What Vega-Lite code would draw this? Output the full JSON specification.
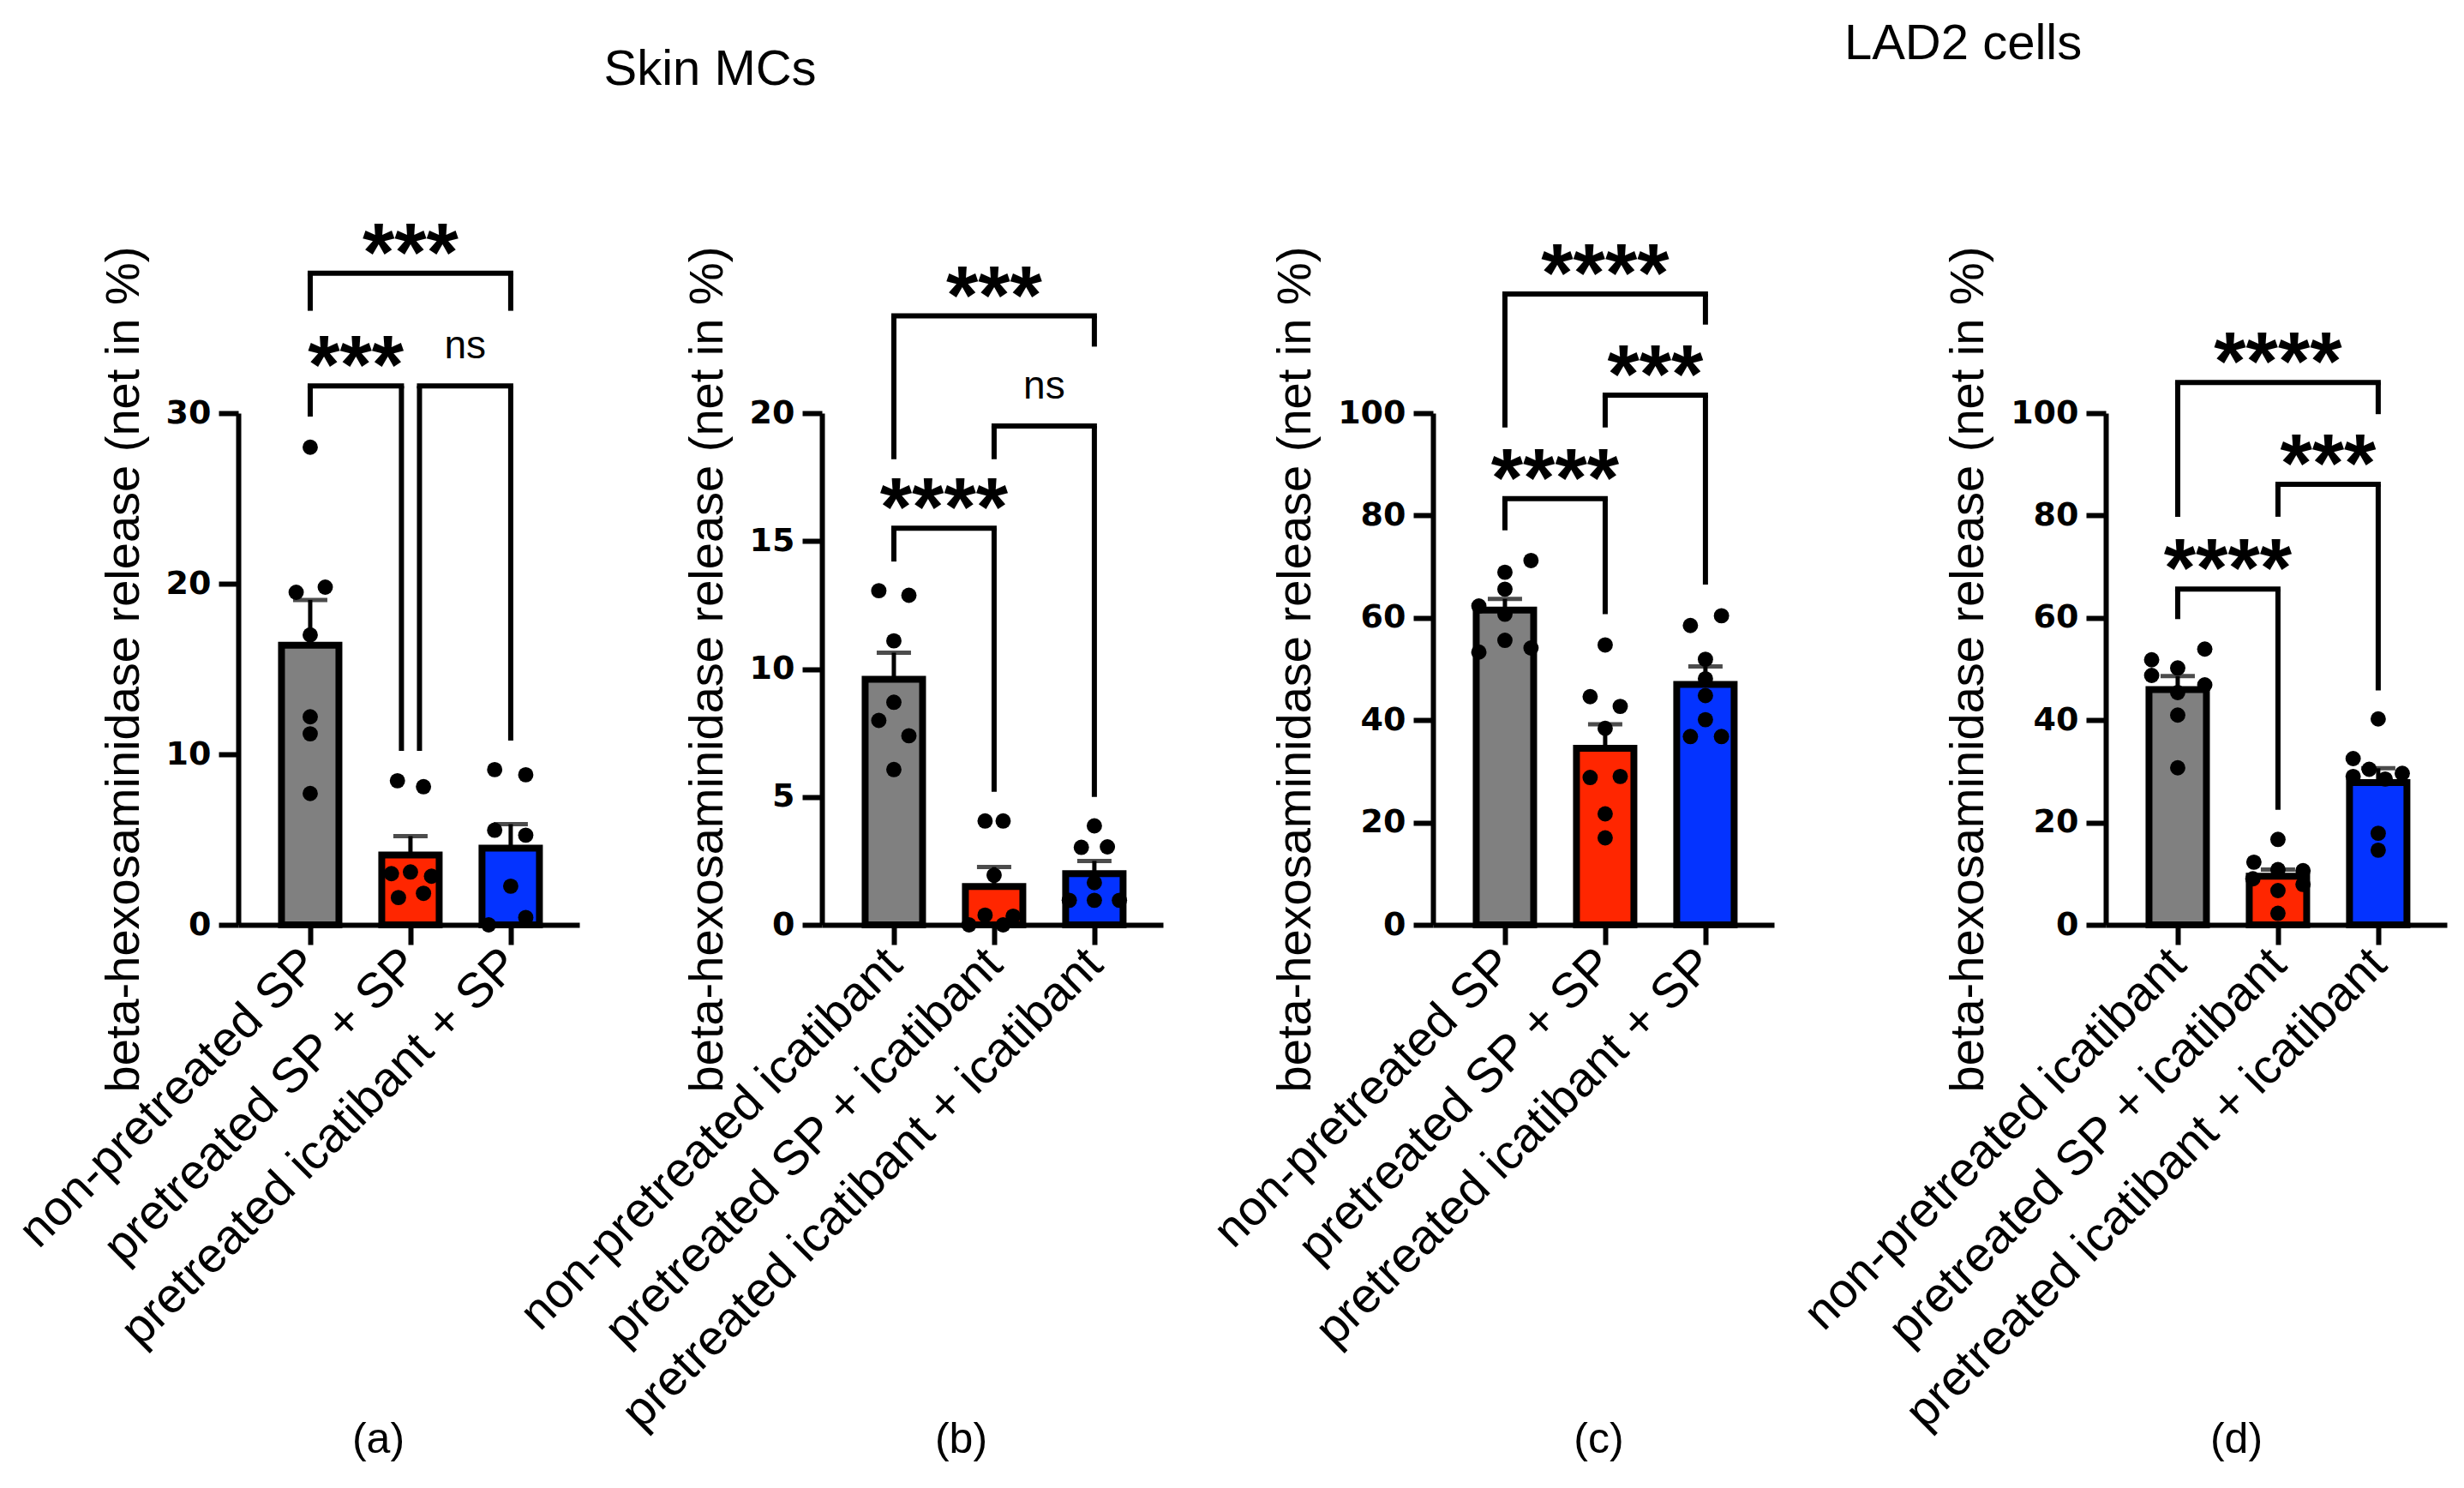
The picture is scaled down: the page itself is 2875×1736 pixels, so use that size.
{
  "$schema": "https://vega.github.io/schema/vega-lite/v6.json",
  "padding": {"left": 12, "top": 22, "right": 5, "bottom": 5},
  "background": "white",
  "config": {
    "font": "Liberation Sans",
    "view": {"stroke": null},
    "axis": {"grid": false, "domainColor": "black", "tickColor": "black", "labelColor": "black", "titleColor": "black", "domainWidth": 6, "tickWidth": 6, "tickSize": 23},
    "axisY": {"labelFont": "DejaVu Sans", "labelFontSize": 38, "labelFontWeight": "bold", "labelPadding": 9, "titleFont": "Liberation Sans", "titleFontSize": 56, "titleFontWeight": "normal", "titlePadding": 20},
    "axisX": {"labelFont": "Liberation Sans", "labelFontSize": 57, "labelFontWeight": "normal", "labelAngle": -45, "labelAlign": "right", "labelBaseline": "middle", "labelPadding": 14, "labelLimit": 0, "labelOverlap": false, "labelBound": false, "labelFlush": false, "titleFont": "Liberation Sans", "titleFontSize": 50, "titleFontWeight": "normal", "titleY": 600, "titleBaseline": "middle", "titleAlign": "center", "titleAngle": 0},
    "title": {"font": "Liberation Sans", "fontSize": 58, "fontWeight": "normal", "color": "black", "anchor": "middle", "baseline": "alphabetic"}
  },
  "datasets": {
    "bars": [
      {"panel": "a", "x": 1, "group": "non-pretreated SP", "mean": 16.4, "upper": 19.05},
      {"panel": "a", "x": 2, "group": "pretreated SP + SP", "mean": 4.1, "upper": 5.2},
      {"panel": "a", "x": 3, "group": "pretreated icatibant + SP", "mean": 4.5, "upper": 5.9},
      {"panel": "b", "x": 1, "group": "non-pretreated icatibant", "mean": 9.6, "upper": 10.64},
      {"panel": "b", "x": 2, "group": "pretreated SP + icatibant", "mean": 1.5, "upper": 2.26},
      {"panel": "b", "x": 3, "group": "pretreated icatibant + icatibant", "mean": 2.0, "upper": 2.5},
      {"panel": "c", "x": 1, "group": "non-pretreated SP", "mean": 61.5, "upper": 63.7},
      {"panel": "c", "x": 2, "group": "pretreated SP + SP", "mean": 34.5, "upper": 39.2},
      {"panel": "c", "x": 3, "group": "pretreated icatibant + SP", "mean": 47.0, "upper": 50.5},
      {"panel": "d", "x": 1, "group": "non-pretreated icatibant", "mean": 46.0, "upper": 48.6},
      {"panel": "d", "x": 2, "group": "pretreated SP + icatibant", "mean": 9.5, "upper": 10.8},
      {"panel": "d", "x": 3, "group": "pretreated icatibant + icatibant", "mean": 27.8, "upper": 30.6}
    ],
    "dots": [
      {"panel": "a", "x": 1.0, "value": 28.0}, {"panel": "a", "x": 0.86, "value": 19.5}, {"panel": "a", "x": 1.15, "value": 19.8}, {"panel": "a", "x": 1.0, "value": 17.0}, {"panel": "a", "x": 1.0, "value": 12.2}, {"panel": "a", "x": 1.0, "value": 11.2}, {"panel": "a", "x": 1.0, "value": 7.7},
      {"panel": "a", "x": 1.87, "value": 8.45}, {"panel": "a", "x": 2.13, "value": 8.1}, {"panel": "a", "x": 1.81, "value": 3.0}, {"panel": "a", "x": 2.0, "value": 3.1}, {"panel": "a", "x": 2.21, "value": 2.85}, {"panel": "a", "x": 1.88, "value": 1.6}, {"panel": "a", "x": 2.13, "value": 1.85},
      {"panel": "a", "x": 2.84, "value": 9.1}, {"panel": "a", "x": 3.15, "value": 8.8}, {"panel": "a", "x": 2.84, "value": 5.55}, {"panel": "a", "x": 3.15, "value": 5.26}, {"panel": "a", "x": 3.0, "value": 2.27}, {"panel": "a", "x": 3.15, "value": 0.43}, {"panel": "a", "x": 2.78, "value": 0.0},
      {"panel": "b", "x": 0.85, "value": 13.06}, {"panel": "b", "x": 1.15, "value": 12.88}, {"panel": "b", "x": 1.0, "value": 11.1}, {"panel": "b", "x": 1.0, "value": 8.7}, {"panel": "b", "x": 0.85, "value": 7.99}, {"panel": "b", "x": 1.15, "value": 7.39}, {"panel": "b", "x": 1.0, "value": 6.07},
      {"panel": "b", "x": 1.91, "value": 4.06}, {"panel": "b", "x": 2.09, "value": 4.06}, {"panel": "b", "x": 2.0, "value": 1.94}, {"panel": "b", "x": 1.91, "value": 0.38}, {"panel": "b", "x": 1.75, "value": 0.0}, {"panel": "b", "x": 2.09, "value": 0.0}, {"panel": "b", "x": 2.19, "value": 0.34},
      {"panel": "b", "x": 3.0, "value": 3.87}, {"panel": "b", "x": 2.87, "value": 3.03}, {"panel": "b", "x": 3.13, "value": 3.05}, {"panel": "b", "x": 3.0, "value": 1.65}, {"panel": "b", "x": 3.0, "value": 0.96}, {"panel": "b", "x": 2.75, "value": 0.96}, {"panel": "b", "x": 3.25, "value": 0.96},
      {"panel": "c", "x": 1.26, "value": 71.2}, {"panel": "c", "x": 1.0, "value": 68.9}, {"panel": "c", "x": 1.0, "value": 65.6}, {"panel": "c", "x": 0.74, "value": 62.3}, {"panel": "c", "x": 1.0, "value": 60.7}, {"panel": "c", "x": 1.0, "value": 55.6}, {"panel": "c", "x": 0.74, "value": 53.3}, {"panel": "c", "x": 1.26, "value": 54.1},
      {"panel": "c", "x": 2.0, "value": 54.7}, {"panel": "c", "x": 1.85, "value": 44.6}, {"panel": "c", "x": 2.15, "value": 42.7}, {"panel": "c", "x": 2.0, "value": 38.4}, {"panel": "c", "x": 1.85, "value": 28.8}, {"panel": "c", "x": 2.15, "value": 29.0}, {"panel": "c", "x": 2.0, "value": 21.7}, {"panel": "c", "x": 2.0, "value": 17.0},
      {"panel": "c", "x": 3.16, "value": 60.4}, {"panel": "c", "x": 2.85, "value": 58.5}, {"panel": "c", "x": 3.0, "value": 51.9}, {"panel": "c", "x": 3.0, "value": 48.1}, {"panel": "c", "x": 3.0, "value": 44.8}, {"panel": "c", "x": 3.0, "value": 40.1}, {"panel": "c", "x": 2.85, "value": 36.8}, {"panel": "c", "x": 3.16, "value": 36.8},
      {"panel": "d", "x": 1.27, "value": 53.9}, {"panel": "d", "x": 0.74, "value": 51.8}, {"panel": "d", "x": 1.0, "value": 50.2}, {"panel": "d", "x": 0.74, "value": 48.75}, {"panel": "d", "x": 1.27, "value": 46.9}, {"panel": "d", "x": 1.0, "value": 45.4}, {"panel": "d", "x": 1.0, "value": 41.0}, {"panel": "d", "x": 1.0, "value": 30.7},
      {"panel": "d", "x": 2.0, "value": 16.7}, {"panel": "d", "x": 1.76, "value": 12.25}, {"panel": "d", "x": 2.0, "value": 10.8}, {"panel": "d", "x": 2.25, "value": 10.6}, {"panel": "d", "x": 1.75, "value": 9.0}, {"panel": "d", "x": 2.25, "value": 7.9}, {"panel": "d", "x": 2.0, "value": 6.7}, {"panel": "d", "x": 2.0, "value": 2.25},
      {"panel": "d", "x": 3.0, "value": 40.25}, {"panel": "d", "x": 2.75, "value": 32.5}, {"panel": "d", "x": 2.91, "value": 30.4}, {"panel": "d", "x": 3.24, "value": 29.6}, {"panel": "d", "x": 2.75, "value": 29.0}, {"panel": "d", "x": 3.07, "value": 28.5}, {"panel": "d", "x": 3.0, "value": 17.9}, {"panel": "d", "x": 3.0, "value": 14.6}
    ],
    "brackets": [
      {"panel": "a", "x1": 1, "x2": 3, "xm": 2, "h": 38.2, "y1": 36.0, "y2": 36.0, "label": "***"},
      {"panel": "a", "x1": 1, "x2": 1.91, "xm": 1.455, "h": 31.6, "y1": 29.8, "y2": 10.2, "label": "***"},
      {"panel": "a", "x1": 2.09, "x2": 3, "xm": 2.545, "h": 31.6, "y1": 10.2, "y2": 10.8, "label": "ns"},
      {"panel": "b", "x1": 1, "x2": 3, "xm": 2, "h": 23.8, "y1": 18.2, "y2": 22.6, "label": "***"},
      {"panel": "b", "x1": 1, "x2": 2, "xm": 1.5, "h": 15.5, "y1": 14.2, "y2": 5.2, "label": "****"},
      {"panel": "b", "x1": 2, "x2": 3, "xm": 2.5, "h": 19.5, "y1": 18.2, "y2": 5.0, "label": "ns"},
      {"panel": "c", "x1": 1, "x2": 3, "xm": 2, "h": 123.3, "y1": 97.2, "y2": 117.3, "label": "****"},
      {"panel": "c", "x1": 1, "x2": 2, "xm": 1.5, "h": 83.3, "y1": 77.1, "y2": 60.7, "label": "****"},
      {"panel": "c", "x1": 2, "x2": 3, "xm": 2.5, "h": 103.5, "y1": 97.2, "y2": 66.5, "label": "***"},
      {"panel": "d", "x1": 1, "x2": 3, "xm": 2, "h": 106.0, "y1": 79.75, "y2": 99.8, "label": "****"},
      {"panel": "d", "x1": 1, "x2": 2, "xm": 1.5, "h": 65.6, "y1": 59.75, "y2": 22.5, "label": "****"},
      {"panel": "d", "x1": 2, "x2": 3, "xm": 2.5, "h": 86.1, "y1": 79.75, "y2": 45.8, "label": "***"}
    ]
  },
  "resolve": {"scale": {"x": "independent", "y": "independent"}},
  "spacing": 49,
  "hconcat": [
    {
      "title": {"text": "Skin MCs", "dx": 144, "offset": 139},
      "bounds": "flush",
      "spacing": 283,
      "resolve": {"scale": {"x": "independent", "y": "independent"}},
      "hconcat": [
        {
          "width": 398, "height": 597,
          "layer": [
            {"data": {"name": "bars"}, "transform": [{"filter": "datum.panel === 'a'"}],
             "mark": {"type": "bar", "orient": "vertical", "size": 67, "stroke": "black", "strokeWidth": 8},
             "encoding": {
               "x": {"field": "x", "type": "quantitative", "scale": {"domain": [0.325, 3.642], "nice": false, "zero": false},
                     "axis": {"values": [1, 2, 3], "labelExpr": "datum.value == 1 ? 'non-pretreated SP' : datum.value == 2 ? 'pretreated SP + SP' : 'pretreated icatibant + SP'", "title": "(a)", "titleX": 163}},
               "y": {"field": "mean", "type": "quantitative", "scale": {"domain": [0, 30], "nice": false, "zero": true},
                     "axis": {"values": [0, 10, 20, 30], "title": "beta-hexosaminidase release (net in %)"}},
               "color": {"field": "group", "type": "nominal", "legend": null,
                         "scale": {"domain": ["non-pretreated SP", "pretreated SP + SP", "pretreated icatibant + SP", "non-pretreated icatibant", "pretreated SP + icatibant", "pretreated icatibant + icatibant"], "range": ["#808080", "#FF2600", "#0433FF", "#808080", "#FF2600", "#0433FF"]}}
             }},
            {"data": {"name": "bars"}, "transform": [{"filter": "datum.panel === 'a'"}],
             "mark": {"type": "rule", "color": "black", "strokeWidth": 5},
             "encoding": {"x": {"field": "x", "type": "quantitative"}, "y": {"field": "mean", "type": "quantitative"}, "y2": {"field": "upper"}}},
            {"data": {"name": "bars"}, "transform": [{"filter": "datum.panel === 'a'"}],
             "mark": {"type": "tick", "orient": "horizontal", "color": "black", "size": 40, "thickness": 5},
             "encoding": {"x": {"field": "x", "type": "quantitative"}, "y": {"field": "upper", "type": "quantitative"}}},
            {"data": {"name": "dots"}, "transform": [{"filter": "datum.panel === 'a'"}],
             "mark": {"type": "point", "filled": true, "color": "black", "opacity": 1, "size": 320},
             "encoding": {"x": {"field": "x", "type": "quantitative"}, "y": {"field": "value", "type": "quantitative"}}},
            {"data": {"name": "brackets"}, "transform": [{"filter": "datum.panel === 'a'"}],
             "mark": {"type": "rule", "color": "black", "strokeWidth": 6, "strokeCap": "square"},
             "encoding": {"x": {"field": "x1", "type": "quantitative"}, "x2": {"field": "x2"}, "y": {"field": "h", "type": "quantitative"}}},
            {"data": {"name": "brackets"}, "transform": [{"filter": "datum.panel === 'a'"}],
             "mark": {"type": "rule", "color": "black", "strokeWidth": 6},
             "encoding": {"x": {"field": "x1", "type": "quantitative"}, "y": {"field": "h", "type": "quantitative"}, "y2": {"field": "y1"}}},
            {"data": {"name": "brackets"}, "transform": [{"filter": "datum.panel === 'a'"}],
             "mark": {"type": "rule", "color": "black", "strokeWidth": 6},
             "encoding": {"x": {"field": "x2", "type": "quantitative"}, "y": {"field": "h", "type": "quantitative"}, "y2": {"field": "y2"}}},
            {"data": {"name": "brackets"}, "transform": [{"filter": "datum.panel === 'a' && datum.label !== 'ns'"}],
             "mark": {"type": "text", "font": "Liberation Sans", "fontWeight": "bold", "fontSize": 96, "baseline": "alphabetic", "align": "center", "dy": 8, "color": "black"},
             "encoding": {"x": {"field": "xm", "type": "quantitative"}, "y": {"field": "h", "type": "quantitative"}, "text": {"field": "label"}}},
            {"data": {"name": "brackets"}, "transform": [{"filter": "datum.panel === 'a' && datum.label === 'ns'"}],
             "mark": {"type": "text", "font": "Liberation Sans", "fontWeight": "normal", "fontSize": 46, "baseline": "alphabetic", "align": "center", "dy": -32, "color": "black"},
             "encoding": {"x": {"field": "xm", "type": "quantitative"}, "y": {"field": "h", "type": "quantitative"}, "text": {"field": "label"}}}
          ]
        },
        {
          "width": 398, "height": 597,
          "layer": [
            {"data": {"name": "bars"}, "transform": [{"filter": "datum.panel === 'b'"}],
             "mark": {"type": "bar", "orient": "vertical", "size": 67, "stroke": "black", "strokeWidth": 8},
             "encoding": {
               "x": {"field": "x", "type": "quantitative", "scale": {"domain": [0.325, 3.642], "nice": false, "zero": false},
                     "axis": {"values": [1, 2, 3], "labelExpr": "datum.value == 1 ? 'non-pretreated icatibant' : datum.value == 2 ? 'pretreated SP + icatibant' : 'pretreated icatibant + icatibant'", "title": "(b)", "titleX": 162}},
               "y": {"field": "mean", "type": "quantitative", "scale": {"domain": [0, 20], "nice": false, "zero": true},
                     "axis": {"values": [0, 5, 10, 15, 20], "title": "beta-hexosaminidase release (net in %)"}},
               "color": {"field": "group", "type": "nominal", "legend": null,
                         "scale": {"domain": ["non-pretreated SP", "pretreated SP + SP", "pretreated icatibant + SP", "non-pretreated icatibant", "pretreated SP + icatibant", "pretreated icatibant + icatibant"], "range": ["#808080", "#FF2600", "#0433FF", "#808080", "#FF2600", "#0433FF"]}}
             }},
            {"data": {"name": "bars"}, "transform": [{"filter": "datum.panel === 'b'"}],
             "mark": {"type": "rule", "color": "black", "strokeWidth": 5},
             "encoding": {"x": {"field": "x", "type": "quantitative"}, "y": {"field": "mean", "type": "quantitative"}, "y2": {"field": "upper"}}},
            {"data": {"name": "bars"}, "transform": [{"filter": "datum.panel === 'b'"}],
             "mark": {"type": "tick", "orient": "horizontal", "color": "black", "size": 40, "thickness": 5},
             "encoding": {"x": {"field": "x", "type": "quantitative"}, "y": {"field": "upper", "type": "quantitative"}}},
            {"data": {"name": "dots"}, "transform": [{"filter": "datum.panel === 'b'"}],
             "mark": {"type": "point", "filled": true, "color": "black", "opacity": 1, "size": 320},
             "encoding": {"x": {"field": "x", "type": "quantitative"}, "y": {"field": "value", "type": "quantitative"}}},
            {"data": {"name": "brackets"}, "transform": [{"filter": "datum.panel === 'b'"}],
             "mark": {"type": "rule", "color": "black", "strokeWidth": 6, "strokeCap": "square"},
             "encoding": {"x": {"field": "x1", "type": "quantitative"}, "x2": {"field": "x2"}, "y": {"field": "h", "type": "quantitative"}}},
            {"data": {"name": "brackets"}, "transform": [{"filter": "datum.panel === 'b'"}],
             "mark": {"type": "rule", "color": "black", "strokeWidth": 6},
             "encoding": {"x": {"field": "x1", "type": "quantitative"}, "y": {"field": "h", "type": "quantitative"}, "y2": {"field": "y1"}}},
            {"data": {"name": "brackets"}, "transform": [{"filter": "datum.panel === 'b'"}],
             "mark": {"type": "rule", "color": "black", "strokeWidth": 6},
             "encoding": {"x": {"field": "x2", "type": "quantitative"}, "y": {"field": "h", "type": "quantitative"}, "y2": {"field": "y2"}}},
            {"data": {"name": "brackets"}, "transform": [{"filter": "datum.panel === 'b' && datum.label !== 'ns'"}],
             "mark": {"type": "text", "font": "Liberation Sans", "fontWeight": "bold", "fontSize": 96, "baseline": "alphabetic", "align": "center", "dy": 8, "color": "black"},
             "encoding": {"x": {"field": "xm", "type": "quantitative"}, "y": {"field": "h", "type": "quantitative"}, "text": {"field": "label"}}},
            {"data": {"name": "brackets"}, "transform": [{"filter": "datum.panel === 'b' && datum.label === 'ns'"}],
             "mark": {"type": "text", "font": "Liberation Sans", "fontWeight": "normal", "fontSize": 46, "baseline": "alphabetic", "align": "center", "dy": -32, "color": "black"},
             "encoding": {"x": {"field": "xm", "type": "quantitative"}, "y": {"field": "h", "type": "quantitative"}, "text": {"field": "label"}}}
          ]
        }
      ]
    },
    {
      "title": {"text": "LAD2 cells", "dx": 160, "offset": 193},
      "bounds": "flush",
      "spacing": 387,
      "resolve": {"scale": {"x": "independent", "y": "independent"}},
      "hconcat": [
        {
          "width": 398, "height": 597,
          "layer": [
            {"data": {"name": "bars"}, "transform": [{"filter": "datum.panel === 'c'"}],
             "mark": {"type": "bar", "orient": "vertical", "size": 67, "stroke": "black", "strokeWidth": 8},
             "encoding": {
               "x": {"field": "x", "type": "quantitative", "scale": {"domain": [0.325, 3.642], "nice": false, "zero": false},
                     "axis": {"values": [1, 2, 3], "labelExpr": "datum.value == 1 ? 'non-pretreated SP' : datum.value == 2 ? 'pretreated SP + SP' : 'pretreated icatibant + SP'", "title": "(c)", "titleX": 193}},
               "y": {"field": "mean", "type": "quantitative", "scale": {"domain": [0, 100], "nice": false, "zero": true},
                     "axis": {"values": [0, 20, 40, 60, 80, 100], "title": "beta-hexosaminidase release (net in %)"}},
               "color": {"field": "group", "type": "nominal", "legend": null,
                         "scale": {"domain": ["non-pretreated SP", "pretreated SP + SP", "pretreated icatibant + SP", "non-pretreated icatibant", "pretreated SP + icatibant", "pretreated icatibant + icatibant"], "range": ["#808080", "#FF2600", "#0433FF", "#808080", "#FF2600", "#0433FF"]}}
             }},
            {"data": {"name": "bars"}, "transform": [{"filter": "datum.panel === 'c'"}],
             "mark": {"type": "rule", "color": "black", "strokeWidth": 5},
             "encoding": {"x": {"field": "x", "type": "quantitative"}, "y": {"field": "mean", "type": "quantitative"}, "y2": {"field": "upper"}}},
            {"data": {"name": "bars"}, "transform": [{"filter": "datum.panel === 'c'"}],
             "mark": {"type": "tick", "orient": "horizontal", "color": "black", "size": 40, "thickness": 5},
             "encoding": {"x": {"field": "x", "type": "quantitative"}, "y": {"field": "upper", "type": "quantitative"}}},
            {"data": {"name": "dots"}, "transform": [{"filter": "datum.panel === 'c'"}],
             "mark": {"type": "point", "filled": true, "color": "black", "opacity": 1, "size": 320},
             "encoding": {"x": {"field": "x", "type": "quantitative"}, "y": {"field": "value", "type": "quantitative"}}},
            {"data": {"name": "brackets"}, "transform": [{"filter": "datum.panel === 'c'"}],
             "mark": {"type": "rule", "color": "black", "strokeWidth": 6, "strokeCap": "square"},
             "encoding": {"x": {"field": "x1", "type": "quantitative"}, "x2": {"field": "x2"}, "y": {"field": "h", "type": "quantitative"}}},
            {"data": {"name": "brackets"}, "transform": [{"filter": "datum.panel === 'c'"}],
             "mark": {"type": "rule", "color": "black", "strokeWidth": 6},
             "encoding": {"x": {"field": "x1", "type": "quantitative"}, "y": {"field": "h", "type": "quantitative"}, "y2": {"field": "y1"}}},
            {"data": {"name": "brackets"}, "transform": [{"filter": "datum.panel === 'c'"}],
             "mark": {"type": "rule", "color": "black", "strokeWidth": 6},
             "encoding": {"x": {"field": "x2", "type": "quantitative"}, "y": {"field": "h", "type": "quantitative"}, "y2": {"field": "y2"}}},
            {"data": {"name": "brackets"}, "transform": [{"filter": "datum.panel === 'c' && datum.label !== 'ns'"}],
             "mark": {"type": "text", "font": "Liberation Sans", "fontWeight": "bold", "fontSize": 96, "baseline": "alphabetic", "align": "center", "dy": 8, "color": "black"},
             "encoding": {"x": {"field": "xm", "type": "quantitative"}, "y": {"field": "h", "type": "quantitative"}, "text": {"field": "label"}}}
          ]
        },
        {
          "width": 398, "height": 597,
          "layer": [
            {"data": {"name": "bars"}, "transform": [{"filter": "datum.panel === 'd'"}],
             "mark": {"type": "bar", "orient": "vertical", "size": 67, "stroke": "black", "strokeWidth": 8},
             "encoding": {
               "x": {"field": "x", "type": "quantitative", "scale": {"domain": [0.325, 3.642], "nice": false, "zero": false},
                     "axis": {"values": [1, 2, 3], "labelExpr": "datum.value == 1 ? 'non-pretreated icatibant' : datum.value == 2 ? 'pretreated SP + icatibant' : 'pretreated icatibant + icatibant'", "title": "(d)", "titleX": 152}},
               "y": {"field": "mean", "type": "quantitative", "scale": {"domain": [0, 100], "nice": false, "zero": true},
                     "axis": {"values": [0, 20, 40, 60, 80, 100], "title": "beta-hexosaminidase release (net in %)"}},
               "color": {"field": "group", "type": "nominal", "legend": null,
                         "scale": {"domain": ["non-pretreated SP", "pretreated SP + SP", "pretreated icatibant + SP", "non-pretreated icatibant", "pretreated SP + icatibant", "pretreated icatibant + icatibant"], "range": ["#808080", "#FF2600", "#0433FF", "#808080", "#FF2600", "#0433FF"]}}
             }},
            {"data": {"name": "bars"}, "transform": [{"filter": "datum.panel === 'd'"}],
             "mark": {"type": "rule", "color": "black", "strokeWidth": 5},
             "encoding": {"x": {"field": "x", "type": "quantitative"}, "y": {"field": "mean", "type": "quantitative"}, "y2": {"field": "upper"}}},
            {"data": {"name": "bars"}, "transform": [{"filter": "datum.panel === 'd'"}],
             "mark": {"type": "tick", "orient": "horizontal", "color": "black", "size": 40, "thickness": 5},
             "encoding": {"x": {"field": "x", "type": "quantitative"}, "y": {"field": "upper", "type": "quantitative"}}},
            {"data": {"name": "dots"}, "transform": [{"filter": "datum.panel === 'd'"}],
             "mark": {"type": "point", "filled": true, "color": "black", "opacity": 1, "size": 320},
             "encoding": {"x": {"field": "x", "type": "quantitative"}, "y": {"field": "value", "type": "quantitative"}}},
            {"data": {"name": "brackets"}, "transform": [{"filter": "datum.panel === 'd'"}],
             "mark": {"type": "rule", "color": "black", "strokeWidth": 6, "strokeCap": "square"},
             "encoding": {"x": {"field": "x1", "type": "quantitative"}, "x2": {"field": "x2"}, "y": {"field": "h", "type": "quantitative"}}},
            {"data": {"name": "brackets"}, "transform": [{"filter": "datum.panel === 'd'"}],
             "mark": {"type": "rule", "color": "black", "strokeWidth": 6},
             "encoding": {"x": {"field": "x1", "type": "quantitative"}, "y": {"field": "h", "type": "quantitative"}, "y2": {"field": "y1"}}},
            {"data": {"name": "brackets"}, "transform": [{"filter": "datum.panel === 'd'"}],
             "mark": {"type": "rule", "color": "black", "strokeWidth": 6},
             "encoding": {"x": {"field": "x2", "type": "quantitative"}, "y": {"field": "h", "type": "quantitative"}, "y2": {"field": "y2"}}},
            {"data": {"name": "brackets"}, "transform": [{"filter": "datum.panel === 'd' && datum.label !== 'ns'"}],
             "mark": {"type": "text", "font": "Liberation Sans", "fontWeight": "bold", "fontSize": 96, "baseline": "alphabetic", "align": "center", "dy": 8, "color": "black"},
             "encoding": {"x": {"field": "xm", "type": "quantitative"}, "y": {"field": "h", "type": "quantitative"}, "text": {"field": "label"}}}
          ]
        }
      ]
    }
  ]
}
